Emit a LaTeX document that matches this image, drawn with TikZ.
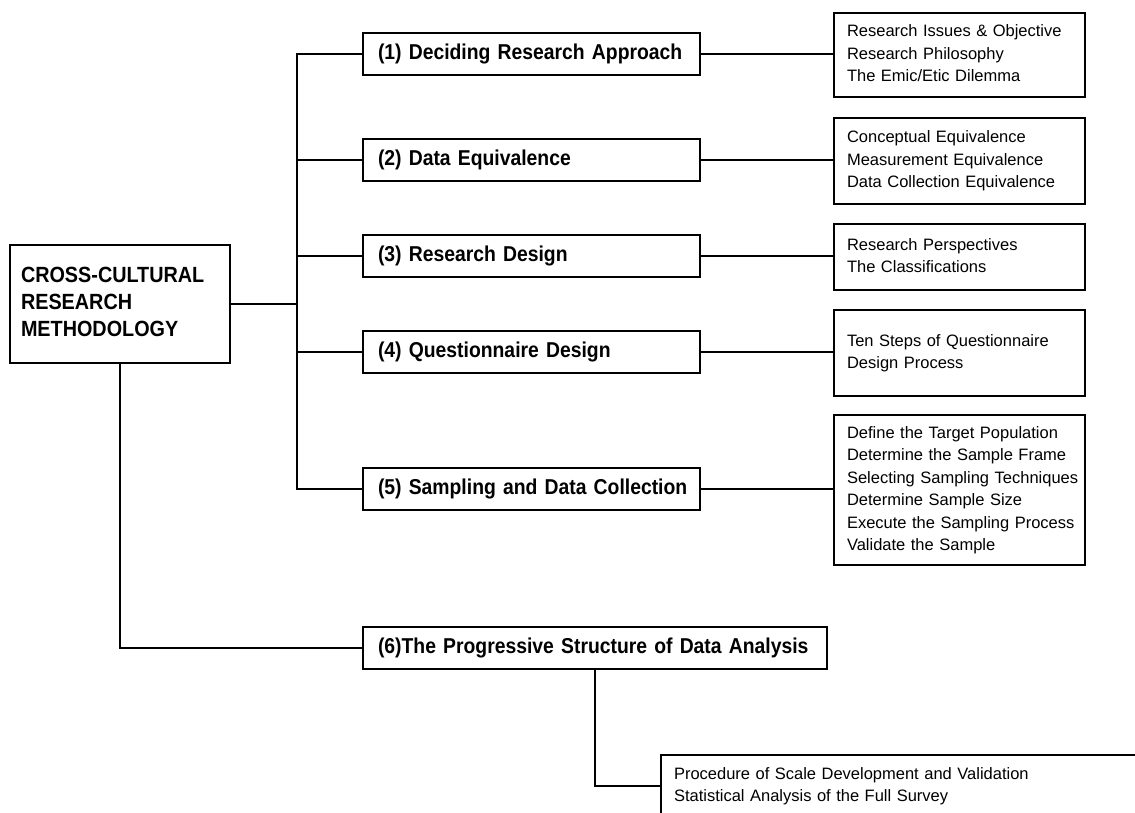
\documentclass[tikz,border=0pt]{standalone}
\usepackage{fontspec}
\setmainfont{Liberation Sans}
\newfontfamily\titlefont[FakeStretch=0.9]{Liberation Sans}
\newcommand{\lines}[1]{\begin{tabular}{@{}l@{}}#1\end{tabular}}
\begin{document}
\begin{tikzpicture}[x=1pt,y=-1pt,line width=2pt,
  titlebox/.style={draw, anchor=west, inner xsep=15pt, inner ysep=0pt, minimum height=42pt, align=left,
    font=\titlefont\bfseries\fontsize{21.5}{26}\selectfont},
  listbox/.style={draw, anchor=north west, inner xsep=13pt, inner ysep=0pt, text width=225pt, align=left,
    font=\fontsize{16.5}{22.5}\selectfont},
  mainbox/.style={draw, anchor=north west, minimum height=118pt, inner xsep=11pt, text width=198pt, align=left,
    font=\titlefont\bfseries\fontsize{22}{27}\selectfont}]
\fill[white] (0,0) rectangle (1135,813);
\useasboundingbox (0,0) rectangle (1135,813);
\clip (0,0) rectangle (1135,813);

\node[mainbox] (main) at (9,244) {\lines{CROSS-CULTURAL\\RESEARCH\\METHODOLOGY}};

\node[titlebox, text width=307pt] (b1) at (362,54) {\lines{(1) Deciding Research Approach}};
\node[titlebox, text width=307pt] (b2) at (362,160) {\lines{(2) Data Equivalence}};
\node[titlebox, text width=307pt] (b3) at (362,256) {\lines{(3) Research Design}};
\node[titlebox, text width=307pt] (b4) at (362,352) {\lines{(4) Questionnaire Design}};
\node[titlebox, text width=307pt] (b5) at (362,489) {\lines{(5) Sampling and Data Collection}};
\node[titlebox, text width=434pt] (b6) at (362,648) {\lines{(6)The Progressive Structure of Data Analysis}};

\node[listbox, minimum height=84pt] (r1) at (833,12) {\lines{Research Issues \& Objective\\Research Philosophy\\The Emic/Etic Dilemma}};
\node[listbox, minimum height=86pt] (r2) at (833,117) {\lines{Conceptual Equivalence\\Measurement Equivalence\\Data Collection Equivalence}};
\node[listbox, minimum height=66pt] (r3) at (833,223) {\lines{Research Perspectives\\The Classifications}};
\node[listbox, minimum height=86pt] (r4) at (833,309) {\lines{Ten Steps of Questionnaire\\Design Process}};
\node[listbox, minimum height=150pt] (r5) at (833,414) {\lines{Define the Target Population\\Determine the Sample Frame\\Selecting Sampling Techniques\\Determine Sample Size\\Execute the Sampling Process\\Validate the Sample}};
\node[listbox, text width=464pt, minimum height=62pt] (r6) at (660,754) {\lines{Procedure of Scale Development and Validation\\Statistical Analysis of the Full Survey}};

\coordinate (bx) at (297,300);
\draw (b1.west) -| (bx) |- (b5.west);
\foreach \n in {b2,b3,b4} \draw (\n.west) -- (\n.west -| bx);
\draw (main.east) -- (main.east -| bx);
\draw (main.south) |- (b6.west);
\foreach \i in {1,...,5} \draw (b\i.east) -- (b\i.east -| r\i.west);
\draw (b6.south) |- (r6.west);
\end{tikzpicture}
\end{document}
